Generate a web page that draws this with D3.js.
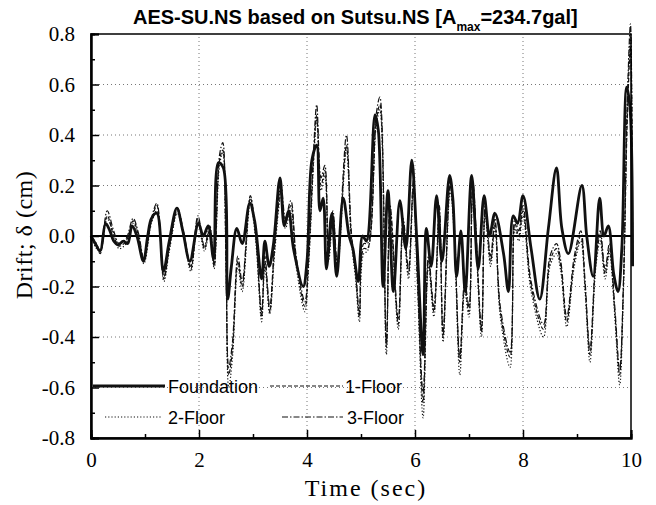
<!DOCTYPE html>
<html>
<head>
<meta charset="utf-8">
<script src="https://cdn.jsdelivr.net/npm/d3@7"></script>
<style>
  body { margin: 0; background: #fff; }
</style>
</head>
<body>
<div id="chart"></div>
<script>
// Drift time histories (time in sec, drift in cm)
const foundationTime = [
  0, 0.08, 0.17, 0.27, 0.35, 0.42, 0.5, 0.6, 0.68, 0.76,
  0.85, 0.97, 1.05, 1.12, 1.22, 1.34, 1.45, 1.59, 1.7, 1.83,
  1.99, 2.08, 2.17, 2.27, 2.36, 2.45, 2.53, 2.6, 2.7, 2.8,
  2.94, 3.03, 3.16, 3.22, 3.3, 3.38, 3.5, 3.58, 3.66, 3.75,
  3.93, 4.0, 4.09, 4.18, 4.24, 4.3, 4.36, 4.46, 4.55, 4.67,
  4.78, 4.85, 4.95, 5.03, 5.1, 5.26, 5.32, 5.41, 5.5, 5.6,
  5.72, 5.83, 5.94, 6.03, 6.15, 6.21, 6.3, 6.4, 6.5, 6.64,
  6.7, 6.77, 6.85, 6.93, 7.05, 7.17, 7.28, 7.38, 7.48, 7.64,
  7.73, 7.82, 7.9, 8.0, 8.15, 8.31, 8.47, 8.62, 8.72, 8.84,
  9.09, 9.18, 9.3, 9.42, 9.5, 9.58, 9.68, 9.76, 9.83, 9.92,
  9.98, 10.03
];
const foundationDrift = [
  0, -0.03, -0.06, 0.05, 0.02, -0.02, -0.035, -0.02, -0.03, 0.04,
  0, -0.1, 0, 0.07, 0.09, -0.14, -0.02, 0.11, 0.02, -0.1,
  0.05, 0, 0.04, -0.09, 0.29, 0.27, -0.25, -0.12, 0.03, -0.03,
  0.13, 0.06, -0.17, -0.02, -0.12, -0.03, 0.23, 0.04, 0.1, -0.05,
  -0.2, -0.1, 0.3, 0.36, 0.1, 0.15, -0.13, 0.09, -0.16, 0.15,
  0, -0.05, -0.18, 0, -0.02, 0.48, 0.42, -0.2, 0.18, -0.22,
  0.14, -0.05, 0.3, 0, -0.47, 0.03, -0.12, 0.16, -0.1, 0.24,
  0.15, -0.16, 0.02, -0.22, 0.24, -0.13, 0.16, 0, 0.09, -0.07,
  -0.22, 0.08, 0.05, 0.16, -0.05, -0.25, 0.03, 0.27, 0.03, -0.07,
  0.2, 0, -0.16, 0.15, 0, 0.04, -0.15, -0.22, -0.05, 0.59,
  0.51, -0.12
];

const floorTime = [
  0, 0.1, 0.17, 0.3, 0.42, 0.52, 0.65, 0.78, 0.88, 0.98,
  1.12, 1.22, 1.35, 1.45, 1.6, 1.72, 1.85, 1.98, 2.1, 2.2,
  2.28, 2.38, 2.44, 2.5, 2.55, 2.62, 2.72, 2.8, 2.95, 3.05,
  3.16, 3.22, 3.31, 3.4, 3.52, 3.6, 3.7, 3.8, 3.96, 4.03,
  4.12, 4.18, 4.26, 4.33, 4.4, 4.48, 4.56, 4.73, 4.82, 4.9,
  4.97, 5.05, 5.12, 5.28, 5.35, 5.47, 5.54, 5.69, 5.78, 5.88,
  5.97, 6.05, 6.15, 6.25, 6.35, 6.45, 6.52, 6.65, 6.72, 6.83,
  6.92, 7.0, 7.07, 7.23, 7.3, 7.4, 7.48, 7.58, 7.76, 7.85,
  7.92, 8.0, 8.15, 8.38, 8.5, 8.62, 8.7, 8.81, 8.95, 9.07,
  9.15, 9.24, 9.35, 9.43, 9.52, 9.6, 9.7, 9.79, 9.86, 9.93,
  9.99, 10.03
];
const floor1Drift = [
  0, -0.04, -0.07, 0.08, 0, -0.04, -0.02, 0.06, 0, -0.1,
  0.06, 0.12, -0.17, -0.05, 0.1, 0, -0.13, 0.07, -0.05, 0.03,
  -0.12, 0.3, 0.34, -0.1, -0.55, -0.45, -0.1, -0.2, 0.15, 0,
  -0.32, -0.1, -0.3, -0.05, 0.18, 0.05, 0.12, -0.1, -0.28, -0.1,
  0.3, 0.48, 0.2, 0.26, -0.08, 0.08, -0.12, 0.36, 0, -0.15,
  -0.32, -0.05, -0.05, 0.45, 0.52, -0.44, 0.1, -0.35, 0.05, -0.15,
  0.2, -0.2, -0.66, -0.1, -0.3, 0.1, -0.4, 0.2, 0.05, -0.5,
  -0.2, -0.3, 0.2, -0.38, 0.1, -0.1, 0.05, -0.3, -0.48, 0.05,
  0, 0.1, -0.2, -0.37, -0.1, -0.05, -0.12, -0.34, -0.1, 0,
  -0.2, -0.47, -0.1, 0, -0.15, -0.05, -0.3, -0.55, -0.2, 0.45,
  0.75, -0.1
];
const floor2Drift = [
  0, -0.05, -0.06, 0.07, 0.01, -0.05, -0.03, 0.05, -0.01, -0.11,
  0.05, 0.1, -0.18, -0.06, 0.09, -0.01, -0.14, 0.06, -0.06, 0.02,
  -0.13, 0.28, 0.33, -0.12, -0.6, -0.48, -0.12, -0.22, 0.13, -0.02,
  -0.34, -0.12, -0.31, -0.07, 0.16, 0.03, 0.1, -0.12, -0.3, -0.12,
  0.28, 0.46, 0.18, 0.24, -0.1, 0.06, -0.14, 0.34, -0.02, -0.17,
  -0.34, -0.07, -0.06, 0.43, 0.5, -0.47, 0.08, -0.37, 0.03, -0.17,
  0.18, -0.22, -0.72, -0.12, -0.32, 0.08, -0.42, 0.18, 0.03, -0.55,
  -0.22, -0.32, 0.18, -0.4, 0.08, -0.12, 0.03, -0.32, -0.52, 0.03,
  -0.02, 0.08, -0.22, -0.4, -0.12, -0.07, -0.14, -0.36, -0.12, -0.02,
  -0.22, -0.5, -0.12, -0.02, -0.17, -0.07, -0.32, -0.59, -0.22, 0.5,
  0.8, -0.12
];
const floor3Drift = [
  0, -0.03, -0.06, 0.1, 0.02, -0.03, -0.01, 0.07, 0.01, -0.09,
  0.07, 0.13, -0.16, -0.04, 0.11, 0.01, -0.12, 0.08, -0.04, 0.04,
  -0.11, 0.32, 0.37, -0.08, -0.52, -0.42, -0.08, -0.18, 0.16, 0.01,
  -0.3, -0.08, -0.28, -0.03, 0.2, 0.07, 0.14, -0.08, -0.26, -0.08,
  0.33, 0.52, 0.23, 0.28, -0.06, 0.1, -0.1, 0.4, 0.02, -0.13,
  -0.3, -0.03, -0.03, 0.48, 0.55, -0.42, 0.12, -0.33, 0.07, -0.13,
  0.22, -0.18, -0.62, -0.08, -0.28, 0.12, -0.38, 0.22, 0.07, -0.48,
  -0.18, -0.28, 0.22, -0.36, 0.12, -0.08, 0.07, -0.28, -0.46, 0.07,
  0.02, 0.12, -0.18, -0.35, -0.08, -0.03, -0.1, -0.32, -0.08, 0.02,
  -0.18, -0.45, -0.08, 0.02, -0.13, -0.03, -0.28, -0.53, -0.18, 0.52,
  0.84, -0.08
];

const seriesNames = ["Foundation", "1-Floor", "2-Floor", "3-Floor"];
const xTicks = [0, 2, 4, 6, 8, 10];
const yTicks = [-0.8, -0.6, -0.4, -0.2, 0.0, 0.2, 0.4, 0.6, 0.8];

const width = 656;
const height = 505;
const margin = { top: 34, right: 25, bottom: 67, left: 91 };
const serif = "'Liberation Serif', 'Times New Roman', serif";
const sans = "'Liberation Sans', Arial, sans-serif";

const zip = (ts, vs) => ts.map((t, i) => ({ t: t, v: vs[i] }));
const series = [
  { name: seriesNames[0], points: zip(foundationTime, foundationDrift), width: 2.8, dash: null },
  { name: seriesNames[1], points: zip(floorTime, floor1Drift), width: 1.2, dash: "4,2" },
  { name: seriesNames[2], points: zip(floorTime, floor2Drift), width: 1.2, dash: "1.2,2" },
  { name: seriesNames[3], points: zip(floorTime, floor3Drift), width: 1.2, dash: "6,2,1.5,2" }
];

const svg = d3.select("#chart").append("svg")
  .attr("width", width)
  .attr("height", height);

const x = d3.scaleLinear().domain([0, 10]).range([margin.left, width - margin.right]);
const y = d3.scaleLinear().domain([-0.8, 0.8]).range([height - margin.bottom, margin.top]);

// dotted grid
svg.append("g")
  .selectAll("line")
  .data(xTicks.filter(d => d > 0 && d < 10))
  .join("line")
  .attr("x1", d => x(d)).attr("x2", d => x(d))
  .attr("y1", y(-0.8)).attr("y2", y(0.8))
  .attr("stroke", "#777").attr("stroke-width", 1).attr("stroke-dasharray", "1,3");
svg.append("g")
  .selectAll("line")
  .data(yTicks.filter(d => Math.abs(d) > 0.01 && Math.abs(d) < 0.79))
  .join("line")
  .attr("x1", x(0)).attr("x2", x(10))
  .attr("y1", d => y(d)).attr("y2", d => y(d))
  .attr("stroke", "#777").attr("stroke-width", 1).attr("stroke-dasharray", "1,3");

// zero line
svg.append("line")
  .attr("x1", x(0)).attr("x2", x(10))
  .attr("y1", y(0)).attr("y2", y(0))
  .attr("stroke", "#000").attr("stroke-width", 2);

// data lines
const line = d3.line()
  .x(d => x(d.t))
  .y(d => y(d.v))
  .curve(d3.curveCatmullRom.alpha(0.5));

svg.append("g")
  .selectAll("path")
  .data(series.slice().reverse())
  .join("path")
  .attr("d", d => line(d.points))
  .attr("fill", "none")
  .attr("stroke", "#111")
  .attr("stroke-width", d => d.width)
  .attr("stroke-dasharray", d => d.dash)
  .attr("stroke-linejoin", "round");

// frame
svg.append("rect")
  .attr("x", x(0)).attr("y", y(0.8))
  .attr("width", x(10) - x(0)).attr("height", y(-0.8) - y(0.8))
  .attr("fill", "none").attr("stroke", "#000").attr("stroke-width", 1.5);

// axes with inward ticks, plain hyphen for negatives like the original
const fmt1 = d => d.toFixed(1);
const xAxis = d3.axisBottom(x).tickValues(xTicks).tickSize(-8).tickPadding(14)
  .tickFormat(d => String(d));
const xMinor = d3.axisBottom(x).tickValues([1, 3, 5, 7, 9]).tickSize(-4).tickFormat("");
const yAxis = d3.axisLeft(y).tickValues(yTicks).tickSize(-8).tickPadding(16)
  .tickFormat(fmt1);
const yMinor = d3.axisLeft(y).tickValues(d3.range(-7, 8, 2).map(d => d / 10)).tickSize(-4).tickFormat("");

const gx = svg.append("g").attr("transform", `translate(0,${y(-0.8)})`).call(xAxis);
svg.append("g").attr("transform", `translate(0,${y(-0.8)})`).call(xMinor);
const gy = svg.append("g").attr("transform", `translate(${x(0)},0)`).call(yAxis);
svg.append("g").attr("transform", `translate(${x(0)},0)`).call(yMinor);

svg.selectAll(".domain").attr("stroke", "#000").attr("stroke-width", 2);
svg.selectAll(".tick line").attr("stroke", "#000").attr("stroke-width", 1.5);
gx.selectAll("text").attr("font-family", serif).attr("font-size", 21).attr("fill", "#000");
gy.selectAll("text").attr("font-family", serif).attr("font-size", 21).attr("fill", "#000");

// axis titles
svg.append("text")
  .attr("x", 366).attr("y", 496)
  .attr("text-anchor", "middle")
  .attr("font-family", serif).attr("font-size", 24).attr("letter-spacing", 2)
  .text("Time (sec)");

svg.append("text")
  .attr("transform", "translate(32,235) rotate(-90)")
  .attr("text-anchor", "middle")
  .attr("font-family", serif).attr("font-size", 24).attr("letter-spacing", 0.5)
  .text("Drift; δ (cm)");

// chart title with subscript
const title = svg.append("text")
  .attr("x", 133).attr("y", 24)
  .attr("font-family", sans).attr("font-size", 20).attr("font-weight", "bold");
title.append("tspan").text("AES-SU.NS based on Sutsu.NS [A");
title.append("tspan").attr("font-size", 12).attr("dy", 7).text("max");
title.append("tspan").attr("dy", -7).text("=234.7gal]");

// legend
const legendItems = [
  { s: series[0], x1: 93, x2: 165, tx: 168, y: 386 },
  { s: series[1], x1: 270, x2: 343, tx: 345, y: 386 },
  { s: series[2], x1: 105, x2: 162, tx: 168, y: 417 },
  { s: series[3], x1: 282, x2: 343, tx: 347, y: 417 }
];
const legend = svg.append("g")
  .selectAll("g")
  .data(legendItems)
  .join("g");
legend.append("line")
  .attr("x1", d => d.x1).attr("x2", d => d.x2)
  .attr("y1", d => d.y).attr("y2", d => d.y)
  .attr("stroke", "#111")
  .attr("stroke-width", d => d.s.width)
  .attr("stroke-dasharray", d => d.s.dash);
legend.append("text")
  .attr("x", d => d.tx).attr("y", d => d.y + 6.5)
  .attr("font-family", sans).attr("font-size", 18)
  .text(d => d.s.name);
</script>
</body>
</html>
